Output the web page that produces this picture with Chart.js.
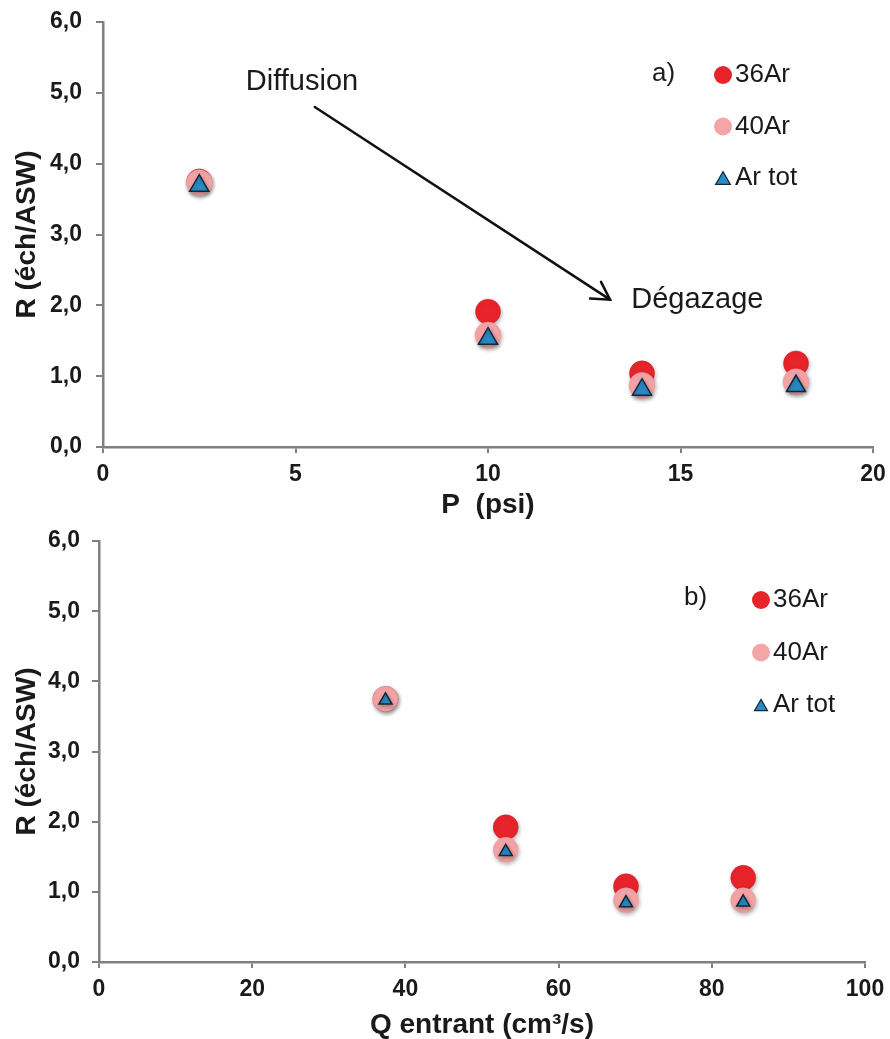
<!DOCTYPE html>
<html><head><meta charset="utf-8">
<script src="https://cdn.jsdelivr.net/npm/chart.js@4.4.1/dist/chart.umd.min.js"></script>
<style>html,body{margin:0;padding:0;background:#fff;} canvas{display:block;}</style>
</head><body>
<canvas id="ca" width="890" height="520"></canvas>
<canvas id="cb" width="890" height="519"></canvas>
<script>
// ---- data ----
const seriesNames = ['36Ar', '40Ar', 'Ar tot'];
const pressurePsi = [2.5, 10, 14, 18];
const flowQ = [37.4, 53.1, 68.8, 84.1];
const ar36_a = [3.75, 1.91, 1.04, 1.18];
const ar40_a = [3.73, 1.58, 0.87, 0.92];
const arTot_a = [3.69, 1.53, 0.81, 0.86];
const ar36_b = [3.75, 1.92, 1.08, 1.20];
const ar40_b = [3.75, 1.60, 0.88, 0.88];
const arTot_b = [3.73, 1.57, 0.84, 0.85];
const yTicks = [0, 1, 2, 3, 4, 5, 6];
const xTicks_a = [0, 5, 10, 15, 20];
const xTicks_b = [0, 20, 40, 60, 80, 100];
const panelLabels = ['a)', 'b)'];
const yTitle = 'R (éch/ASW)';
const xTitles = ['P  (psi)', 'Q entrant (cm³/s)'];
const annotationTexts = ['Diffusion', 'Dégazage'];
// annotation anchor points in data units of panel a
const arrowFrom = [5.5, 4.8];
const arrowTo = [13.17, 2.08];
const diffusionAt = [3.71, 5.15];
const degazageAt = [13.72, 2.08];

const FONT = '"Liberation Sans", Arial, Helvetica, sans-serif';
const COL36 = '#e8242b', COL40 = '#f5a5a7', COLTOT = '#2a8cc6', COLTOTB = '#10283a';
const AXIS = '#808080', TXT = '#1a1a1a';

function drawMarker(ctx, style, x, y, r, fill, stroke, bw) {
  ctx.beginPath();
  if (style === 'triangle') {
    let rad = 0;
    ctx.moveTo(x + Math.sin(rad) * r, y - Math.cos(rad) * r);
    rad += 2 * Math.PI / 3;
    ctx.lineTo(x + Math.sin(rad) * r, y - Math.cos(rad) * r);
    rad += 2 * Math.PI / 3;
    ctx.lineTo(x + Math.sin(rad) * r, y - Math.cos(rad) * r);
    ctx.closePath();
  } else {
    ctx.arc(x, y, r, 0, Math.PI * 2);
  }
  ctx.fillStyle = fill; ctx.fill();
  if (bw > 0) { ctx.lineWidth = bw; ctx.strokeStyle = stroke; ctx.stroke(); }
}

const overlay = {
  id: 'overlay',
  beforeDatasetsDraw(chart) {
    const ctx = chart.ctx;
    ctx.save();
    ctx.shadowColor = 'rgba(0,0,0,0.28)';
    ctx.shadowBlur = 4; ctx.shadowOffsetX = 1; ctx.shadowOffsetY = 2;
  },
  afterDatasetsDraw(chart, args, o) {
    const ctx = chart.ctx;
    ctx.restore();
    ctx.save();
    // legend
    ctx.textBaseline = 'middle'; ctx.textAlign = 'left';
    ctx.font = '26px ' + FONT; ctx.fillStyle = TXT;
    ctx.fillText(o.panel, o.panelX, o.panelY);
    const styles = [['circle', o.legR, COL36, COL36, 0], ['circle', o.legR, COL40, COL40, 0], ['triangle', o.legTri, COLTOT, COLTOTB, 1.2]];
    seriesNames.forEach((n, i) => {
      const y = o.legY + i * o.legDy;
      const s = styles[i];
      drawMarker(ctx, s[0], o.legX, s[0] === 'triangle' ? y + s[1] / 4 : y, s[1], s[2], s[3], s[4]);
      ctx.fillStyle = TXT;
      ctx.fillText(n, o.legTextX, y);
    });
    if (o.annot) {
      const sx = chart.scales.x, sy = chart.scales.y;
      const px = v => sx.getPixelForValue(v), py = v => sy.getPixelForValue(v);
      ctx.font = '29px ' + FONT;
      ctx.fillStyle = TXT;
      ctx.fillText(annotationTexts[0], px(diffusionAt[0]), py(diffusionAt[1]));
      ctx.fillText(annotationTexts[1], px(degazageAt[0]), py(degazageAt[1]));
      const x1 = px(arrowFrom[0]), y1 = py(arrowFrom[1]), x2 = px(arrowTo[0]), y2 = py(arrowTo[1]);
      ctx.strokeStyle = '#111'; ctx.lineWidth = 2.5; ctx.lineCap = 'round';
      ctx.beginPath(); ctx.moveTo(x1, y1); ctx.lineTo(x2, y2); ctx.stroke();
      const ang = Math.atan2(y2 - y1, x2 - x1);
      const L = 20, sp = Math.PI / 6;
      ctx.beginPath();
      ctx.moveTo(x2 + L * Math.cos(ang + Math.PI - sp), y2 + L * Math.sin(ang + Math.PI - sp));
      ctx.lineTo(x2, y2);
      ctx.lineTo(x2 + L * Math.cos(ang + Math.PI + sp), y2 + L * Math.sin(ang + Math.PI + sp));
      ctx.stroke();
    }
    ctx.restore();
  }
};

function fmtY(v) { return v.toFixed(1).replace('.', ','); }

function makeChart(id, xs, s36, s40, sTot, xTicks, xTitle, g) {
  return new Chart(document.getElementById(id), {
    type: 'scatter',
    data: {
      datasets: [
        { label: seriesNames[0], data: xs.map((x, i) => ({ x: x, y: s36[i] })), pointStyle: 'circle', pointRadius: g.r36, pointHoverRadius: g.r36, backgroundColor: COL36, borderColor: '#cf1d23', borderWidth: 0.5, order: 3 },
        { label: seriesNames[1], data: xs.map((x, i) => ({ x: x, y: s40[i] })), pointStyle: 'circle', pointRadius: g.r40, pointHoverRadius: g.r40, backgroundColor: COL40, borderColor: '#ee9a9d', borderWidth: 0.5, order: 2 },
        { label: seriesNames[2], data: xs.map((x, i) => ({ x: x, y: sTot[i] })), pointStyle: 'triangle', pointRadius: g.rTri, pointHoverRadius: g.rTri, backgroundColor: COLTOT, borderColor: COLTOTB, borderWidth: 1.5, order: 1 }
      ]
    },
    options: {
      responsive: false, animation: false, devicePixelRatio: 1,
      layout: { padding: { left: 0, top: g.top, right: g.right, bottom: 0 } },
      plugins: { legend: { display: false }, tooltip: { enabled: false }, overlay: g.overlay },
      scales: {
        x: {
          type: 'linear', min: xTicks[0], max: xTicks[xTicks.length - 1],
          afterBuildTicks: s => { s.ticks = xTicks.map(v => ({ value: v })); },
          afterFit: s => { s.height = g.xh; s.paddingLeft = 0; s.paddingRight = 0; },
          grid: { display: true, drawOnChartArea: false, drawTicks: true, tickLength: 6, color: AXIS, lineWidth: 2 },
          border: { display: true, color: AXIS, width: 2.5 },
          ticks: { padding: 8, color: TXT, font: { family: FONT, size: 23, weight: 'bold' }, maxRotation: 0 },
          title: { display: true, text: xTitle, color: TXT, font: { family: FONT, size: 28, weight: 'bold', lineHeight: 1 }, padding: { top: 0, bottom: g.xtp } }
        },
        y: {
          type: 'linear', min: yTicks[0], max: yTicks[yTicks.length - 1],
          afterBuildTicks: s => { s.ticks = yTicks.map(v => ({ value: v })); },
          afterFit: s => { s.width = g.yw; s.paddingTop = 0; s.paddingBottom = 0; },
          grid: { display: true, drawOnChartArea: false, drawTicks: true, tickLength: 7, color: AXIS, lineWidth: 2 },
          border: { display: true, color: AXIS, width: 2.5 },
          ticks: { padding: g.ytp, color: TXT, font: { family: FONT, size: 23, weight: 'bold' }, callback: v => fmtY(v) },
          title: { display: true, text: yTitle, color: TXT, font: { family: FONT, size: 28, weight: 'bold', lineHeight: 1 }, padding: { top: 13, bottom: 0 } }
        }
      }
    },
    plugins: [overlay]
  });
}

makeChart('ca', pressurePsi, ar36_a, ar40_a, arTot_a, xTicks_a, xTitles[0], {
  r36: 12.5, r40: 13, rTri: 11, top: 22, right: 17, xh: 73, yw: 103, ytp: 14, xtp: 1,
  overlay: { panel: panelLabels[0], panelX: 652, panelY: 74, legX: 723, legY: 75, legDy: 51.5, legTextX: 735, legR: 9, legTri: 8.5, annot: true }
});
makeChart('cb', flowQ, ar36_b, ar40_b, arTot_b, xTicks_b, xTitles[1], {
  r36: 12.5, r40: 12.5, rTri: 7.5, top: 21, right: 25, xh: 77, yw: 99, ytp: 12, xtp: 0,
  overlay: { panel: panelLabels[1], panelX: 684, panelY: 78, legX: 761, legY: 80, legDy: 52.5, legTextX: 773, legR: 9, legTri: 7.5, annot: false }
});
</script>
</body></html>
